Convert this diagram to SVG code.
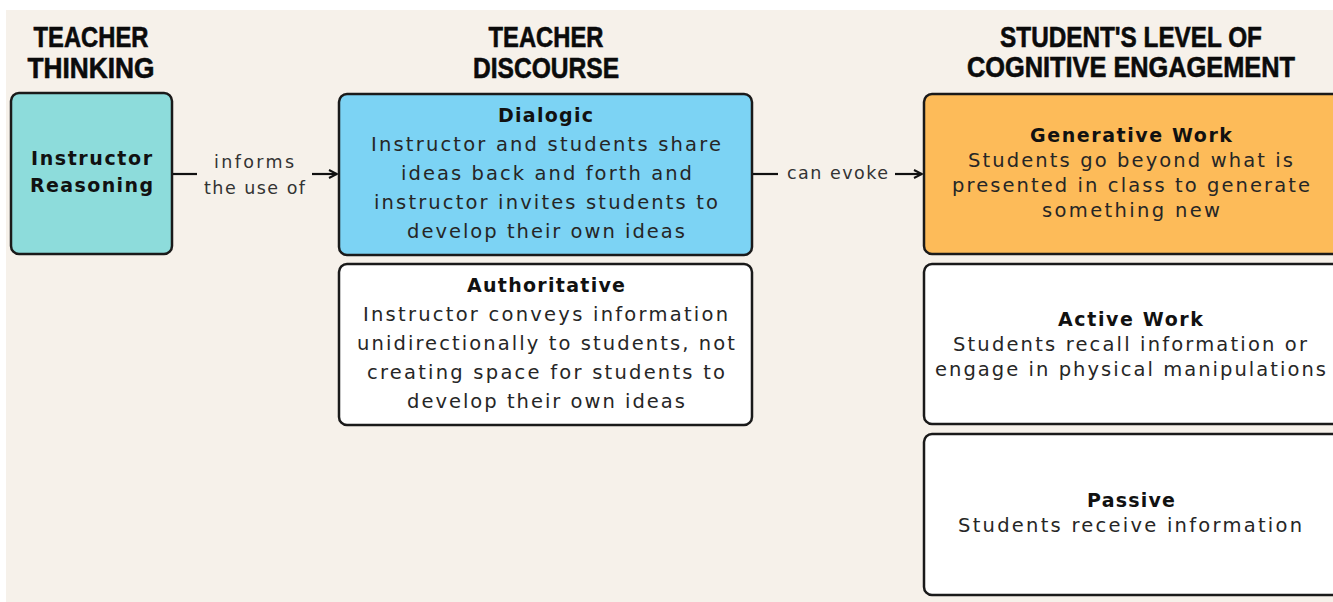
<svg xmlns="http://www.w3.org/2000/svg" width="1333" height="602" viewBox="0 0 1333 602">
<defs>
<marker id="arr" viewBox="0 0 10 10" refX="9" refY="5" markerWidth="10" markerHeight="10" markerUnits="userSpaceOnUse" orient="auto">
<path d="M1,1 L9,5 L1,9" fill="none" stroke="#111" stroke-width="2"/>
</marker>
<style>
.hdr{font-family:"Liberation Sans",Arial,sans-serif;font-weight:bold;font-size:29px;fill:#0b0b0b;text-anchor:middle;stroke:#0b0b0b;stroke-width:0.6}
.box{stroke:#1a1a1a;stroke-width:2.5}
.t{font-family:"DejaVu Sans","Noto Sans",sans-serif;font-size:19.5px;fill:#262626;text-anchor:middle}
.b{font-family:"DejaVu Sans","Noto Sans",sans-serif;font-size:19px;font-weight:bold;fill:#111;text-anchor:middle}
.lbl{font-family:"DejaVu Sans","Noto Sans",sans-serif;font-size:17.5px;fill:#333;text-anchor:middle}
.con{stroke:#111;stroke-width:2.2;fill:none}
</style>
</defs>
<rect x="0" y="0" width="1333" height="602" fill="#ffffff"/>
<rect x="6" y="10" width="1327" height="592" fill="#f6f1ea"/>

<g id="headers">
<text class="hdr" transform="translate(91,47) scale(0.87,1)" x="0" y="0" textLength="132" lengthAdjust="spacingAndGlyphs">TEACHER</text>
<text class="hdr" transform="translate(91,78) scale(0.87,1)" x="0" y="0" textLength="146" lengthAdjust="spacingAndGlyphs">THINKING</text>
<text class="hdr" transform="translate(546,47) scale(0.87,1)" x="0" y="0" textLength="132" lengthAdjust="spacingAndGlyphs">TEACHER</text>
<text class="hdr" transform="translate(546,78) scale(0.87,1)" x="0" y="0" textLength="168" lengthAdjust="spacingAndGlyphs">DISCOURSE</text>
<text class="hdr" transform="translate(1131,47) scale(0.87,1)" x="0" y="0" textLength="301" lengthAdjust="spacingAndGlyphs">STUDENT'S LEVEL OF</text>
<text class="hdr" transform="translate(1131,77) scale(0.87,1)" x="0" y="0" textLength="377" lengthAdjust="spacingAndGlyphs">COGNITIVE ENGAGEMENT</text>
</g>

<g id="node-reasoning">
<rect class="box" x="11" y="93" width="161" height="161" rx="8" fill="#8ddcdb"/>
<text class="b" x="91.5" y="165" textLength="121" lengthAdjust="spacing">Instructor</text>
<text class="b" x="91.5" y="192" textLength="123" lengthAdjust="spacing">Reasoning</text>
</g>

<g id="node-dialogic">
<rect class="box" x="339" y="94" width="413" height="161" rx="8" fill="#7cd3f4"/>
<text class="b" x="545.5" y="122" textLength="95" lengthAdjust="spacing">Dialogic</text>
<text class="t" x="546" y="151" textLength="350" lengthAdjust="spacing">Instructor and students share</text>
<text class="t" x="546.5" y="180" textLength="291" lengthAdjust="spacing">ideas back and forth and</text>
<text class="t" x="546" y="209" textLength="344" lengthAdjust="spacing">instructor invites students to</text>
<text class="t" x="546" y="238" textLength="278" lengthAdjust="spacing">develop their own ideas</text>
</g>

<g id="node-authoritative">
<rect class="box" x="339" y="264" width="413" height="161" rx="8" fill="#ffffff"/>
<text class="b" x="546" y="292" textLength="158" lengthAdjust="spacing">Authoritative</text>
<text class="t" x="545.5" y="321" textLength="365" lengthAdjust="spacing">Instructor conveys information</text>
<text class="t" x="546" y="350" textLength="378" lengthAdjust="spacing">unidirectionally to students, not</text>
<text class="t" x="546" y="379" textLength="358" lengthAdjust="spacing">creating space for students to</text>
<text class="t" x="546" y="408" textLength="278" lengthAdjust="spacing">develop their own ideas</text>
</g>

<g id="node-generative">
<rect class="box" x="924" y="94" width="420" height="160" rx="8" fill="#fdbb59"/>
<text class="b" x="1131" y="142" textLength="202" lengthAdjust="spacing">Generative Work</text>
<text class="t" x="1130.5" y="167" textLength="325" lengthAdjust="spacing">Students go beyond what is</text>
<text class="t" x="1131" y="192" textLength="358" lengthAdjust="spacing">presented in class to generate</text>
<text class="t" x="1131" y="217" textLength="178" lengthAdjust="spacing">something new</text>
</g>

<g id="node-active">
<rect class="box" x="924" y="264" width="420" height="160" rx="8" fill="#ffffff"/>
<text class="b" x="1130.5" y="326" textLength="145" lengthAdjust="spacing">Active Work</text>
<text class="t" x="1130" y="351" textLength="354" lengthAdjust="spacing">Students recall information or</text>
<text class="t" x="1130.5" y="376" textLength="391" lengthAdjust="spacing">engage in physical manipulations</text>
</g>

<g id="node-passive">
<rect class="box" x="924" y="434" width="420" height="161" rx="8" fill="#ffffff"/>
<text class="b" x="1131" y="507" textLength="88" lengthAdjust="spacing">Passive</text>
<text class="t" x="1130" y="532" textLength="344" lengthAdjust="spacing">Students receive information</text>
</g>

<g id="connectors">
<line class="con" x1="173" y1="174" x2="197" y2="174"/>
<line class="con" x1="312" y1="174" x2="337" y2="174" marker-end="url(#arr)"/>
<text class="lbl" x="254" y="168" textLength="80" lengthAdjust="spacing">informs</text>
<text class="lbl" x="254.5" y="194" textLength="101" lengthAdjust="spacing">the use of</text>
<line class="con" x1="753" y1="174" x2="778" y2="174"/>
<line class="con" x1="895" y1="174" x2="922" y2="174" marker-end="url(#arr)"/>
<text class="lbl" x="837.5" y="179" textLength="101" lengthAdjust="spacing">can evoke</text>
</g>
</svg>
